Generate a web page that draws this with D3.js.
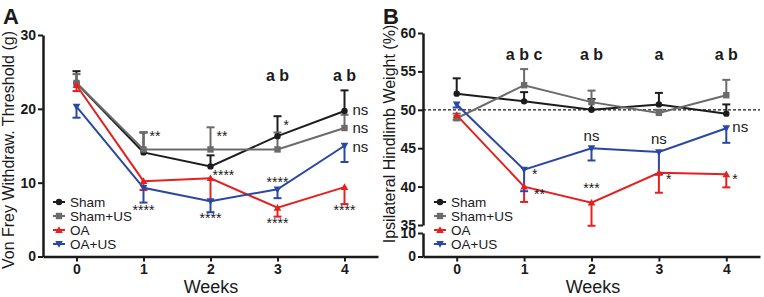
<!DOCTYPE html>
<html>
<head>
<meta charset="utf-8">
<script src="https://cdn.jsdelivr.net/npm/d3@7"></script>
<style>
  body { margin: 0; background: #fff; }
  svg { font-family: "Liberation Sans", Arial, sans-serif; }
</style>
</head>
<body>
<svg id="chart" width="764" height="297"></svg>
<script>
const weeks = [0, 1, 2, 3, 4];
const groups = ["Sham", "Sham+US", "OA", "OA+US"];
const colors = ["#1c1c1c", "#6b6b6b", "#e62020", "#2a48a3"];
const shapes = ["circle", "square", "up", "down"];

// Panel A: Von Frey threshold (g), mean and one-sided error
const vfMean = [
  [23.5, 14.1, 12.2, 16.3, 19.7],
  [23.5, 14.5, 14.5, 14.5, 17.4],
  [23.2, 10.2, 10.6, 6.6, 9.4],
  [20.3, 9.3, 7.5, 9.1, 15.0]
];
const vfErr = [
  [1.6, 2.7, 1.5, 2.7, 2.8],
  [1.2, 2.3, 3.0, 2.3, 1.8],
  [0.8, 1.2, 3.0, 1.2, 2.3],
  [1.5, 2.0, 1.5, 1.2, 2.2]
];
const vfAnnot = [
  {w: 1, dx: 6, v: 15.6, t: "**"}, {w: 2, dx: 6, v: 15.6, t: "**"},
  {w: 3, dx: 6, v: 17.2, t: "*"},
  {w: 4, dx: 8, v: 19.2, t: "ns"}, {w: 4, dx: 8, v: 16.7, t: "ns"}, {w: 4, dx: 8, v: 14.2, t: "ns"},
  {w: 1, dx: 0, v: 5.6, t: "****"}, {w: 2, dx: 2, v: 10.4, t: "****"},
  {w: 2, dx: 0, v: 4.6, t: "****"}, {w: 3, dx: 0, v: 9.4, t: "****"},
  {w: 3, dx: 0, v: 3.8, t: "****"}, {w: 4, dx: 0, v: 5.6, t: "****"}
];
const vfLetters = [{w: 3, t: "a b"}, {w: 4, t: "a b"}];
const vfTicks = [0, 10, 20, 30];

// Panel B: ipsilateral hindlimb weight (%)
const hwMean = [
  [52.1, 51.1, 50.0, 50.7, 49.5],
  [48.9, 53.2, 51.0, 49.6, 51.9],
  [49.3, 40.0, 37.9, 41.8, 41.6],
  [50.7, 42.2, 45.0, 44.5, 47.6]
];
const hwErr = [
  [2.0, 1.2, 1.4, 1.5, 1.2],
  [0.6, 2.1, 1.5, 0.4, 2.0],
  [0.6, 2.0, 3.0, 2.6, 1.7],
  [0.4, 2.8, 1.6, 2.9, 1.9]
];
const hwAnnot = [
  {w: 1, dx: 8, v: 41.0, t: "*"}, {w: 1, dx: 10, v: 38.4, t: "**"},
  {w: 2, dx: 0, v: 39.2, t: "***"}, {w: 3, dx: 7, v: 40.4, t: "*"},
  {w: 4, dx: 6, v: 40.4, t: "*"},
  {w: 2, dx: 0, v: 45.9, t: "ns"}, {w: 3, dx: 0, v: 45.5, t: "ns"},
  {w: 4, dx: 6, v: 47.1, t: "ns"}
];
const hwLetters = [{w: 1, t: "a b c"}, {w: 2, t: "a b"}, {w: 3, t: "a"}, {w: 4, t: "a b"}];
const hwTicksUp = [35, 40, 45, 50, 55, 60];
const hwTicksLow = [0, 10];

const svg = d3.select("#chart");

function marker(g, shape, color, x, y) {
  const s = 3.2;
  if (shape === "circle") {
    g.append("circle").attr("cx", x).attr("cy", y).attr("r", s).attr("fill", color);
  } else if (shape === "square") {
    g.append("rect").attr("x", x - s).attr("y", y - s).attr("width", 2 * s).attr("height", 2 * s).attr("fill", color);
  } else {
    const d = shape === "up" ? -1 : 1;
    g.append("path")
      .attr("d", `M${x - s * 1.2},${y - d * s * 0.9}L${x + s * 1.2},${y - d * s * 0.9}L${x},${y + d * s * 1.2}Z`)
      .attr("fill", color);
  }
}

function drawSeries(g, x, y, means, errs) {
  means.forEach((m, i) => {
    const color = colors[i];
    const dir = i < 2 ? 1 : -1;
    const pts = weeks.map((w, j) => [x(w), y(m[j])]);
    g.append("path")
      .attr("d", d3.line()(pts))
      .attr("fill", "none")
      .attr("stroke", color)
      .attr("stroke-width", 2);
    weeks.forEach((w, j) => {
      const x0 = x(w), y0 = y(m[j]), y1 = y(m[j] + dir * errs[i][j]);
      g.append("line").attr("x1", x0).attr("x2", x0).attr("y1", y0).attr("y2", y1)
        .attr("stroke", color).attr("stroke-width", 2);
      g.append("line").attr("x1", x0 - 4).attr("x2", x0 + 4).attr("y1", y1).attr("y2", y1)
        .attr("stroke", color).attr("stroke-width", 2);
    });
  });
  means.forEach((m, i) => {
    weeks.forEach((w, j) => marker(g, shapes[i], colors[i], x(w), y(m[j])));
  });
}

function drawLegend(g, lx, ly) {
  groups.forEach((name, i) => {
    const yy = ly + i * 14;
    g.append("line").attr("x1", lx).attr("x2", lx + 12).attr("y1", yy).attr("y2", yy)
      .attr("stroke", colors[i]).attr("stroke-width", 2);
    marker(g, shapes[i], colors[i], lx + 6, yy);
    g.append("text").attr("x", lx + 17).attr("y", yy + 5).attr("font-size", 13.5).attr("fill", "#1a1a1a").text(name);
  });
}

function xAxis(g, x, y0) {
  g.append("g")
    .attr("transform", `translate(0,${y0})`)
    .call(d3.axisBottom(x).tickValues(weeks).tickFormat(d3.format("d")).tickSize(5).tickSizeOuter(0).tickPadding(3))
    .call(a => a.select(".domain").attr("stroke", "#1a1a1a").attr("stroke-width", 2.5))
    .call(a => a.selectAll(".tick line").attr("stroke", "#1a1a1a").attr("stroke-width", 2))
    .call(a => a.selectAll("text").attr("font-size", 14).attr("font-weight", "bold").attr("fill", "#1a1a1a")
      .attr("font-family", "Liberation Sans, Arial, sans-serif"));
}

function yAxis(g, x0, y, ticks) {
  g.append("g")
    .attr("transform", `translate(${x0},0)`)
    .call(d3.axisLeft(y).tickValues(ticks).tickFormat(d3.format("d")).tickSize(5).tickSizeOuter(0).tickPadding(2))
    .call(a => a.select(".domain").attr("stroke", "#1a1a1a").attr("stroke-width", 2.5))
    .call(a => a.selectAll(".tick line").attr("stroke", "#1a1a1a").attr("stroke-width", 2))
    .call(a => a.selectAll("text").attr("font-size", 14).attr("font-weight", "bold").attr("fill", "#1a1a1a")
      .attr("font-family", "Liberation Sans, Arial, sans-serif"));
}

function annots(g, x, y, list) {
  list.forEach(a => {
    g.append("text").attr("x", x(a.w) + a.dx).attr("y", y(a.v))
      .attr("text-anchor", a.dx > 0 ? "start" : "middle")
      .attr("font-size", a.t === "ns" ? 15 : 14).attr("fill", "#1a1a1a").text(a.t);
  });
}

function letters(g, x, yPos, list) {
  list.forEach(a => {
    g.append("text").attr("x", x(a.w)).attr("y", yPos).attr("text-anchor", "middle")
      .attr("font-size", 16).attr("font-weight", "bold").attr("fill", "#1a1a1a").text(a.t);
  });
}

// ---------- Panel A ----------
const gA = svg.append("g");
const xA = d3.scaleLinear().domain([-0.5, 4.5]).range([43, 378]);
const yA = d3.scaleLinear().domain([0, 30]).range([256.5, 35]);
xAxis(gA, xA, 256.5);
yAxis(gA, 43, yA, vfTicks);
drawSeries(gA, xA, yA, vfMean, vfErr);
annots(gA, xA, yA, vfAnnot);
letters(gA, xA, 81, vfLetters);
drawLegend(gA, 53, 202);
gA.append("text").attr("x", 211).attr("y", 293).attr("text-anchor", "middle")
  .attr("font-size", 18).attr("fill", "#1a1a1a").text("Weeks");
gA.append("text").attr("transform", "translate(14,150) rotate(-90)").attr("text-anchor", "middle")
  .attr("font-size", 16).attr("fill", "#1a1a1a").text("Von Frey Withdraw. Threshold (g)");
gA.append("text").attr("x", 3).attr("y", 24).attr("font-size", 22).attr("font-weight", "bold")
  .attr("fill", "#1a1a1a").text("A");

// ---------- Panel B ----------
const gB = svg.append("g");
const xB = d3.scaleLinear().domain([-0.5, 4.5]).range([423, 760]);
const yBu = d3.scaleLinear().domain([35, 60]).range([225, 33]);
const yBl = d3.scaleLinear().domain([0, 10]).range([256.5, 233]);
xAxis(gB, xB, 256.5);
yAxis(gB, 423, yBu, hwTicksUp);
yAxis(gB, 423, yBl, hwTicksLow);
gB.append("line").attr("x1", xB(-0.5)).attr("x2", xB(4.5)).attr("y1", yBu(50)).attr("y2", yBu(50))
  .attr("stroke", "#1a1a1a").attr("stroke-width", 1.2).attr("stroke-dasharray", "3,2");
drawSeries(gB, xB, yBu, hwMean, hwErr);
annots(gB, xB, yBu, hwAnnot);
letters(gB, xB, 60, hwLetters);
drawLegend(gB, 434, 202);
gB.append("text").attr("x", 593).attr("y", 293).attr("text-anchor", "middle")
  .attr("font-size", 18).attr("fill", "#1a1a1a").text("Weeks");
gB.append("text").attr("transform", "translate(395,134) rotate(-90)").attr("text-anchor", "middle")
  .attr("font-size", 16).attr("fill", "#1a1a1a").text("Ipsilateral Hindlimb Weight (%)");
gB.append("text").attr("x", 383).attr("y", 24).attr("font-size", 22).attr("font-weight", "bold")
  .attr("fill", "#1a1a1a").text("B");
</script>
</body>
</html>
